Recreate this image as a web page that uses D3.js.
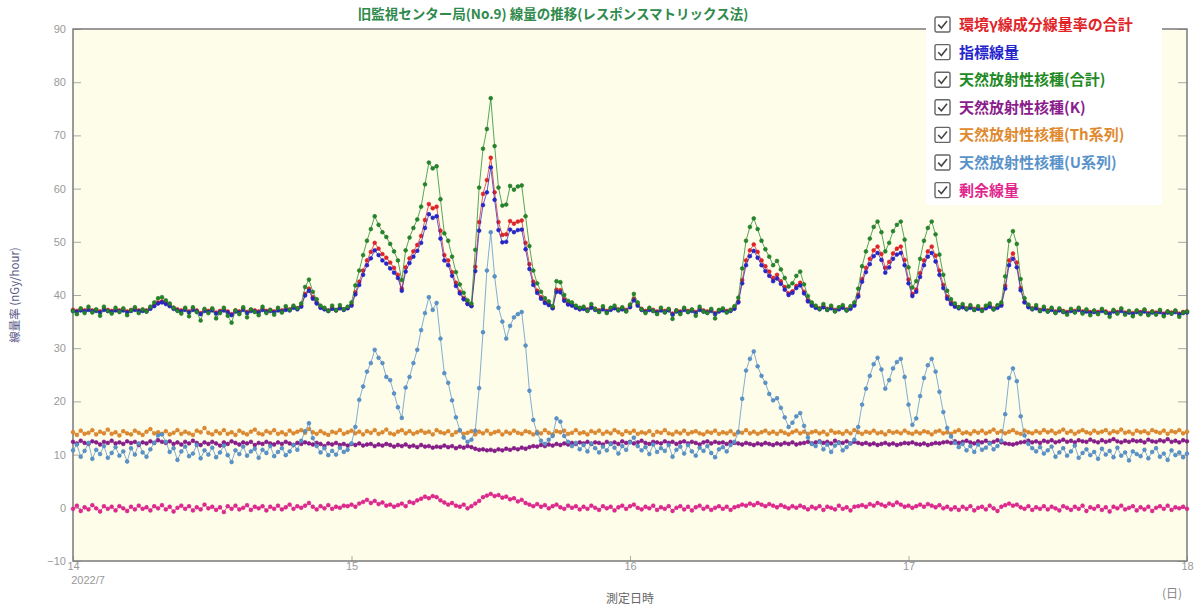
<!DOCTYPE html>
<html>
<head>
<meta charset="utf-8">
<script src="https://cdn.jsdelivr.net/npm/d3@7"></script>
<style>
  body { margin: 0; background: #fff; }
  svg { display: block; font-family: "Liberation Sans Narrow", "Liberation Sans", sans-serif; }
  .tick text { fill: #999; font-size: 11px; }
  .axis path.domain { display: none; }
  .axis line { stroke: #aaa; }
</style>
</head>
<body>
<div id="field"></div>
<script>
// 20-minute samples from 2022/7/14 00:00 to 2022/7/18 00:00 (289 points)
const startTime = new Date(2022, 6, 14, 0, 0);
const stepMinutes = 20;

const seriesNames = ["環境γ線成分線量率の合計", "指標線量", "天然放射性核種(合計)", "天然放射性核種(K)",
  "天然放射性核種(Th系列)", "天然放射性核種(U系列)", "剰余線量"];
const seriesColors = ["#e02428", "#2626cc", "#1f8a25", "#8a1c8c", "#e08a30", "#5a93c9", "#e0288e"];
const dotColors = ["#d81e24", "#2020b8", "#2a6e2e", "#7a1580", "#d07a22", "#4a82b8", "#d41e84"];

const yTicks = [-10, 0, 10, 20, 30, 40, 50, 60, 70, 80, 90];
const dayTicks = [14, 15, 16, 17, 18];

const totalRate = [
37.2,37.0,37.3,37.1,37.4,37.1,37.2,36.9,37.4,37.2,37.0,37.3,
37.1,37.3,36.9,37.2,37.4,37.1,37.2,37.1,37.6,38.1,38.6,38.8,
38.5,38.1,37.6,37.3,37.1,37.4,36.9,37.4,37.1,36.6,37.2,37.0,
37.3,36.7,37.0,37.3,36.9,36.4,37.1,36.9,37.4,36.8,37.2,37.1,
36.9,37.4,37.0,37.2,36.9,37.3,37.1,37.4,37.3,37.8,37.5,38.0,
40.2,41.2,39.6,38.6,37.7,37.4,37.1,37.6,37.2,37.6,37.3,37.6,
38.2,40.5,42.5,44.6,46.5,48.1,49.8,48.7,47.7,47.0,46.1,45.1,
43.8,41.2,45.2,46.9,48.2,49.4,51.1,54.1,57.1,56.3,56.6,52.1,
47.5,46.5,44.3,42.3,40.6,39.4,38.4,38.0,45.3,53.7,59.0,61.6,
65.8,59.3,53.7,51.3,51.4,53.9,53.4,53.8,54.0,49.8,45.8,42.5,
40.8,39.6,38.7,38.3,37.6,41.0,40.9,39.2,38.4,38.2,37.7,37.4,
37.6,37.3,37.8,37.4,37.1,37.5,37.0,37.4,37.7,37.3,37.5,37.2,
37.9,39.3,38.2,37.4,37.0,37.4,37.2,36.9,37.3,37.0,37.3,36.5,
37.1,36.9,37.4,37.0,37.2,36.8,37.4,37.1,36.9,37.2,36.6,37.1,
37.3,37.0,37.2,37.6,38.8,42.8,46.5,48.4,49.5,48.1,46.5,45.4,
44.4,43.2,43.8,42.6,41.5,40.3,40.7,41.7,42.3,40.6,39.0,38.2,
37.8,37.5,37.9,37.4,37.7,37.2,37.5,37.8,37.3,37.6,38.2,40.0,
43.0,45.1,46.8,48.4,49.1,47.7,45.1,46.2,47.8,48.7,49.1,46.6,
42.9,40.2,41.0,44.1,46.5,48.2,49.1,47.4,44.6,41.9,39.7,38.6,
38.0,37.7,37.9,37.5,37.8,37.4,37.6,37.3,37.7,38.0,37.5,37.8,
38.2,41.7,46.5,47.8,46.1,41.3,38.7,37.9,37.5,37.7,37.2,37.5,
37.1,37.4,36.9,37.3,37.0,36.8,37.2,37.0,37.4,36.9,37.1,36.8,
37.0,36.8,37.2,36.9,36.6,37.1,36.8,37.2,36.7,36.9,36.6,37.0,
36.8,37.1,36.6,36.9,36.7,37.0,36.5,36.9,36.7,37.0,36.5,36.8,
36.9];

const indexDose = [
37.0,36.8,37.1,36.9,37.2,36.9,37.0,36.7,37.2,37.0,36.8,37.1,
36.9,37.1,36.7,37.0,37.2,36.9,37.0,36.9,37.4,37.9,38.4,38.6,
38.3,37.9,37.4,37.1,36.9,37.2,36.7,37.2,36.9,36.4,37.0,36.8,
37.1,36.5,36.8,37.1,36.7,36.2,36.9,36.7,37.2,36.6,37.0,36.9,
36.7,37.2,36.8,37.0,36.7,37.1,36.9,37.2,37.1,37.6,37.3,37.8,
39.9,40.8,39.3,38.4,37.6,37.3,37.0,37.4,37.1,37.5,37.2,37.5,
38.0,40.1,41.9,43.8,45.6,46.9,48.4,47.5,46.5,45.9,45.0,44.2,
43.2,40.8,44.4,46.0,47.2,48.3,49.8,52.6,55.2,54.5,54.8,50.6,
46.5,45.6,43.6,41.7,40.3,39.2,38.3,37.9,44.5,52.1,56.9,59.3,
64.0,57.9,52.2,49.9,50.0,52.3,51.8,52.2,52.3,48.6,44.9,41.9,
40.4,39.3,38.5,38.1,37.5,40.6,40.5,38.9,38.2,38.0,37.6,37.3,
37.4,37.1,37.6,37.2,36.9,37.3,36.8,37.2,37.5,37.1,37.3,37.0,
37.7,39.0,38.0,37.2,36.8,37.2,37.0,36.7,37.1,36.8,37.1,36.3,
36.9,36.7,37.2,36.8,37.0,36.6,37.2,36.9,36.7,37.0,36.4,36.9,
37.1,36.8,37.0,37.4,38.6,42.2,45.6,47.3,48.3,47.0,45.6,44.5,
43.6,42.6,43.1,42.1,41.0,40.0,40.4,41.3,41.8,40.3,38.8,38.0,
37.6,37.3,37.7,37.2,37.5,37.0,37.3,37.6,37.1,37.4,38.0,39.7,
42.5,44.3,45.8,47.3,47.9,46.6,44.2,45.2,46.8,47.6,47.9,45.6,
42.2,39.8,40.6,43.4,45.6,47.2,47.9,46.3,43.8,41.3,39.3,38.3,
37.8,37.5,37.7,37.3,37.6,37.2,37.4,37.1,37.5,37.8,37.3,37.6,
38.0,41.2,45.6,46.8,45.2,40.9,38.6,37.7,37.3,37.5,37.0,37.3,
36.9,37.2,36.7,37.1,36.8,36.6,37.0,36.8,37.2,36.7,36.9,36.6,
36.8,36.6,37.0,36.7,36.4,36.9,36.6,37.0,36.5,36.7,36.4,36.8,
36.6,36.9,36.4,36.7,36.5,36.8,36.3,36.7,36.5,36.8,36.3,36.6,
36.7];

const naturalTotal = [
37.0,36.4,37.5,36.6,37.8,36.7,37.3,36.1,37.8,37.0,36.5,37.6,
36.8,37.5,36.2,37.1,37.7,36.6,37.3,36.9,37.8,38.6,39.4,39.6,
39.0,38.4,37.6,37.0,36.5,37.6,36.0,37.7,36.8,35.2,37.4,36.6,
37.5,35.6,36.6,37.6,36.1,34.8,37.1,36.4,37.7,35.8,37.3,36.8,
36.2,37.8,36.6,37.2,36.3,37.6,36.7,37.9,37.2,38.0,37.5,38.4,
41.5,42.9,40.6,39.2,38.0,37.6,37.0,38.0,37.1,38.1,37.3,37.8,
38.6,41.8,44.6,47.5,50.2,52.4,54.8,53.2,51.8,50.9,49.6,48.2,
46.5,42.8,48.4,50.8,52.6,54.2,56.6,60.8,64.9,63.8,64.2,58.0,
51.6,50.2,47.2,44.3,42.0,40.4,39.0,38.4,48.5,60.2,67.5,71.2,
77.0,68.0,60.2,56.8,57.0,60.5,59.8,60.4,60.6,54.8,49.2,44.6,
42.2,40.6,39.4,38.8,37.9,42.6,42.4,40.0,38.9,38.6,38.0,37.6,
37.8,37.0,38.3,37.4,36.8,37.9,36.6,37.6,38.0,37.2,37.7,36.9,
38.2,40.2,38.6,37.3,36.6,37.6,37.0,36.4,37.6,36.7,37.4,35.5,
37.1,36.4,37.6,36.8,37.3,36.1,37.8,36.9,36.6,37.4,35.6,37.2,
37.5,36.7,37.2,37.9,39.5,45.0,50.2,52.8,54.4,52.4,50.2,48.6,
47.2,45.6,46.4,44.8,43.2,41.6,42.2,43.6,44.4,42.0,39.8,38.6,
38.0,37.4,38.3,37.2,38.0,36.9,37.7,38.1,37.1,37.9,38.6,41.2,
45.4,48.2,50.6,52.8,53.8,51.8,48.2,49.8,52.0,53.2,53.8,50.4,
45.2,41.4,42.6,46.8,50.2,52.6,53.8,51.4,47.6,43.8,40.8,39.2,
38.4,37.7,38.3,37.4,38.1,37.2,37.9,37.0,38.0,38.4,37.3,38.1,
38.6,43.5,50.2,52.0,49.6,43.0,39.4,38.2,37.4,38.1,37.0,37.8,
36.9,37.6,36.6,37.5,36.9,36.3,37.4,36.7,37.6,36.5,37.3,36.2,
37.1,36.4,37.4,36.7,35.9,37.2,36.5,37.5,36.3,37.0,36.0,37.1,
36.4,37.3,36.2,36.9,36.3,37.2,36.0,36.9,36.5,37.1,35.9,36.7,
36.9];

const naturalK = [
12.4,12.1,12.6,12.2,12.0,12.5,12.3,11.9,12.4,12.2,12.6,12.1,
12.3,12.0,12.5,12.2,12.4,11.8,12.3,12.1,12.5,12.2,12.7,12.4,
12.2,12.5,12.0,12.3,11.9,12.4,12.1,12.6,12.2,11.8,12.3,12.0,
12.4,12.1,11.7,12.3,12.0,12.5,12.2,11.9,12.3,12.1,12.4,11.8,
12.2,12.0,12.4,12.1,11.9,12.3,12.0,12.4,12.1,11.8,12.2,12.0,
12.3,12.1,11.9,12.2,12.0,11.6,12.1,11.9,12.2,11.8,12.0,11.7,
12.0,11.8,12.1,11.7,11.9,12.0,11.6,11.9,11.7,12.0,11.8,11.5,
11.8,11.6,11.9,11.5,11.7,11.4,11.8,11.5,11.6,11.3,11.5,11.4,
11.7,11.4,11.6,11.2,11.5,11.3,11.6,11.4,11.1,10.9,11.0,10.8,
10.9,10.7,11.0,10.8,11.1,10.9,11.2,11.0,11.3,11.1,11.4,11.6,
11.5,11.8,11.6,11.9,11.7,12.0,11.8,12.1,11.9,12.2,12.0,12.3,
12.1,12.4,12.0,12.3,12.2,11.9,12.4,12.1,12.3,12.0,12.5,12.2,
12.4,12.1,12.3,12.6,12.2,12.0,12.4,12.3,12.1,12.5,12.2,12.4,
12.0,12.3,12.5,12.1,12.4,12.2,11.9,12.3,12.5,12.1,12.4,12.2,
12.3,12.0,12.4,12.2,12.1,11.9,12.2,12.0,11.8,12.1,11.9,12.2,
12.0,11.8,12.1,11.9,12.2,12.0,12.3,11.9,12.1,12.2,12.4,12.1,
12.3,12.5,12.2,12.4,12.1,12.6,12.3,12.2,12.5,12.1,12.4,12.2,
12.0,12.2,11.9,12.1,11.8,12.0,12.2,11.9,12.1,11.8,12.0,12.2,
12.1,12.3,12.0,11.9,12.1,11.8,12.0,12.2,12.1,12.3,12.4,12.2,
12.5,12.2,12.4,12.6,12.3,12.1,12.5,12.3,12.6,12.2,12.4,12.7,
12.3,12.1,12.0,11.9,12.1,12.3,12.4,12.6,12.3,12.5,12.2,12.6,
12.4,12.7,12.3,12.5,12.8,12.4,12.6,12.3,12.7,12.5,12.4,12.8,
12.5,12.3,12.7,12.4,12.6,12.9,12.5,12.3,12.6,12.4,12.7,12.5,
12.6,12.3,12.8,12.5,12.4,12.7,12.5,12.9,12.4,12.6,12.3,12.7,
12.5];

const naturalTh = [
14.2,13.7,14.5,13.9,14.1,14.6,13.8,14.3,14.0,14.7,13.9,14.2,
13.6,14.4,14.0,13.8,14.5,14.1,13.7,14.3,14.8,14.0,14.2,13.9,
14.4,13.8,14.1,14.6,13.9,14.3,14.0,13.7,14.5,14.2,15.0,14.1,
13.8,14.4,14.0,14.6,13.9,14.2,13.7,14.5,14.1,13.8,14.3,14.7,
14.0,13.8,14.4,14.1,14.6,13.9,14.2,13.8,14.5,14.0,14.3,14.6,
14.1,14.8,14.2,13.9,14.4,14.0,13.7,14.3,14.1,14.6,13.9,14.2,
14.5,14.0,14.3,13.8,14.4,14.1,14.6,13.9,14.2,14.7,14.0,13.8,
14.3,14.6,14.0,14.4,13.9,14.2,14.5,14.1,14.3,13.8,14.6,14.2,
14.0,14.4,13.7,14.2,14.5,13.9,14.1,14.4,13.8,14.3,14.0,14.5,
13.9,14.2,14.4,13.8,14.3,14.0,14.5,14.1,13.9,14.4,14.2,13.8,
14.3,14.0,14.6,14.1,13.8,14.4,14.2,14.5,13.9,14.1,14.6,14.0,
14.2,13.8,14.4,14.1,14.5,13.9,14.3,14.0,14.6,14.2,13.8,14.4,
14.1,14.5,13.9,14.2,14.0,14.4,13.7,14.3,14.1,14.6,14.0,13.8,
14.3,14.0,14.5,13.9,14.2,14.4,14.0,13.8,14.3,14.1,14.5,13.9,
14.2,14.0,14.4,13.8,14.3,14.1,14.6,14.0,14.3,13.9,14.2,14.5,
14.0,14.3,13.9,14.4,14.1,13.8,14.2,14.5,14.0,14.3,13.9,14.2,
14.4,14.0,14.3,13.8,14.5,14.1,14.2,13.9,14.4,14.0,14.6,14.2,
13.9,14.3,14.1,14.5,14.0,14.2,13.8,14.4,14.1,14.3,14.0,14.5,
14.1,13.9,14.3,14.0,14.4,14.2,13.8,14.3,14.5,14.0,14.2,13.9,
14.3,14.6,14.0,14.2,13.9,14.4,14.1,14.5,14.0,14.3,14.7,14.1,
14.4,14.0,14.3,14.6,14.1,13.9,14.5,14.2,14.0,14.4,14.1,14.6,
14.2,14.5,14.0,14.3,14.7,14.1,14.4,13.9,14.3,14.6,14.2,14.0,
14.5,14.1,14.3,14.6,14.0,14.4,14.2,14.7,14.1,14.3,13.9,14.5,
14.2,14.4,14.0,14.6,14.3,14.1,14.5,13.9,14.4,14.2,14.6,14.0,
14.3];

const naturalU = [
10.8,11.9,9.6,10.7,12.2,9.2,10.9,10.1,11.6,9.4,10.3,11.4,
9.8,10.6,8.7,11.2,10.0,12.1,10.4,9.6,11.0,12.2,13.6,13.8,
12.4,10.5,11.2,9.0,10.6,11.5,9.7,10.2,11.8,9.3,10.8,10.0,
11.3,9.5,10.4,11.7,9.9,8.6,10.8,10.1,11.5,9.8,10.6,11.1,
9.4,10.9,10.3,11.6,9.7,10.5,11.2,9.9,10.6,11.8,10.9,12.6,
14.4,15.9,13.1,11.6,10.4,11.2,9.9,10.7,10.0,11.3,10.5,10.9,
12.1,15.2,20.3,22.8,25.6,27.2,29.7,28.2,27.2,24.6,24.0,21.5,
18.9,16.9,22.6,24.6,27.2,29.7,33.4,36.6,39.6,37.2,38.5,31.8,
25.3,23.5,20.2,17.0,14.6,13.2,12.4,12.8,14.5,22.5,33.0,44.6,
51.8,43.5,37.6,35.0,31.8,34.2,35.8,36.4,36.8,30.5,22.0,16.5,
14.0,12.6,12.0,12.8,13.5,16.8,16.2,13.5,12.4,11.6,12.2,11.0,
11.8,10.6,12.1,11.2,10.4,11.5,10.8,12.0,11.3,10.2,11.6,10.9,
12.3,13.2,11.6,10.8,11.4,10.1,11.9,10.5,11.2,10.7,11.8,9.6,
10.9,11.5,10.2,11.8,10.6,9.8,11.3,10.7,11.6,10.3,9.5,11.0,
11.4,10.6,11.8,12.4,14.2,20.5,25.8,28.0,29.4,26.6,24.8,23.5,
21.4,20.2,20.6,18.8,17.0,15.2,16.0,17.2,17.8,15.4,13.2,12.0,
11.6,12.4,11.0,11.9,10.5,11.7,12.2,10.8,11.4,12.1,12.8,15.2,
19.4,22.4,24.8,27.0,28.2,26.0,22.4,24.0,26.2,27.4,28.0,24.6,
19.4,15.6,16.8,21.0,24.4,26.8,28.0,25.6,21.8,18.0,15.0,13.4,
12.2,11.4,12.0,10.8,11.6,10.5,11.9,10.9,11.3,12.1,11.0,11.6,
12.6,17.6,24.4,26.2,23.8,17.2,13.6,12.0,11.2,10.6,11.4,10.2,
10.8,11.5,9.6,10.4,11.2,9.8,10.6,11.7,9.4,10.3,11.0,9.9,
10.5,9.2,11.1,10.0,10.7,9.5,11.3,9.8,10.4,8.9,10.6,10.1,
9.7,10.9,9.3,10.5,11.2,9.6,10.2,9.0,10.8,9.9,10.4,9.5,
10.2];

const residual = [
-0.2,0.4,-0.6,0.1,-0.3,0.5,-0.1,-0.7,0.3,-0.2,0.2,-0.5,
0.3,-0.1,-0.6,0.2,-0.3,0.4,-0.2,0.1,-0.5,0.3,-0.1,0.5,
-0.3,0.2,-0.7,0.0,0.4,-0.2,0.3,-0.5,0.1,-0.3,0.6,-0.1,
0.2,-0.4,0.1,-0.8,0.3,-0.2,0.4,-0.3,0.0,0.5,-0.4,0.2,
-0.1,0.3,-0.5,0.2,-0.2,0.4,-0.3,0.1,0.6,-0.2,0.3,0.0,
0.4,0.9,0.2,-0.3,0.3,-0.1,0.5,-0.2,0.2,0.0,0.4,0.3,
0.6,0.2,0.8,1.1,1.5,0.9,1.3,0.7,1.0,0.4,0.6,0.2,
0.5,0.8,0.3,1.1,0.9,1.4,1.7,2.1,1.8,2.2,2.0,1.4,
1.0,0.6,0.9,0.4,0.2,0.6,-0.1,0.3,0.8,1.3,2.0,2.3,
2.6,2.2,2.4,1.9,2.1,1.6,1.8,1.2,1.5,0.9,0.6,0.3,
0.7,0.2,0.5,-0.1,0.3,0.6,0.1,-0.2,0.4,0.0,0.3,-0.3,
0.2,-0.2,0.4,0.0,-0.4,0.3,-0.1,0.2,-0.5,0.1,0.4,-0.2,
0.3,0.6,0.0,-0.3,0.2,-0.1,0.4,-0.4,0.1,-0.2,0.3,-0.6,
0.0,0.3,-0.3,0.2,-0.5,0.1,0.4,-0.2,0.2,-0.4,0.0,0.3,
-0.2,0.2,-0.4,0.1,0.3,0.6,0.4,0.8,0.5,0.9,0.6,0.3,
0.7,0.4,0.1,0.5,0.2,-0.1,0.3,0.0,0.4,0.1,-0.3,0.2,
-0.1,0.3,-0.4,0.2,0.0,-0.3,0.4,-0.2,0.1,-0.5,0.2,0.3,
0.5,0.2,0.7,0.4,0.9,0.6,0.3,0.8,0.5,1.0,0.6,0.2,
0.4,0.0,0.3,0.6,0.2,0.7,0.4,0.1,0.5,-0.1,0.2,-0.3,
0.1,-0.4,0.2,-0.2,0.3,-0.5,0.0,0.2,-0.3,0.4,-0.1,-0.6,
0.2,0.5,0.8,0.4,0.6,0.1,-0.2,0.3,-0.4,0.1,-0.2,0.3,
-0.3,0.2,-0.1,-0.5,0.3,0.0,-0.4,0.2,-0.2,0.4,-0.6,0.1,
-0.2,0.3,-0.4,0.1,-0.7,0.2,-0.1,0.4,-0.3,0.0,0.3,-0.5,
0.1,-0.3,0.2,-0.6,0.0,0.3,-0.2,0.4,-0.4,0.1,-0.1,0.2,
-0.2];

const allSeries = [totalRate, indexDose, naturalTotal, naturalK, naturalTh, naturalU, residual];

// sizes
const width = 1198;
const height = 607;
const plotLeft = 73;
const plotRight = 1187;
const plotTop = 29;
const plotBottom = 561;

const times = totalRate.map(function(d, i) {
    return new Date(startTime.getTime() + i * stepMinutes * 60000);
});

const xScale = d3.scaleTime()
    .domain([new Date(2022, 6, 14), new Date(2022, 6, 18)])
    .range([plotLeft, plotRight]);

const yScale = d3.scaleLinear()
    .domain([-10, 90])
    .range([plotBottom, plotTop]);

const chart = d3.select("#field")
    .append("svg")
    .attr("width", width)
    .attr("height", height);

// plot background
chart.append("rect")
    .attr("x", plotLeft)
    .attr("y", plotTop)
    .attr("width", plotRight - plotLeft)
    .attr("height", plotBottom - plotTop)
    .attr("fill", "#fdfde9");

// title
chart.append("text")
    .attr("x", 553)
    .attr("y", 19)
    .attr("text-anchor", "middle")
    .attr("fill", "#2f8a4c")
    .style("font-family", "'Noto Sans CJK JP', sans-serif")
    .style("font-size", "13.5px")
    .style("font-weight", "bold")
    .text("旧監視センター局(No.9) 線量の推移(レスポンスマトリックス法)");

// axes
const leftAxis = d3.axisLeft(yScale)
    .tickValues(yTicks)
    .tickSize(-8)
    .tickPadding(7);

chart.append("g")
    .attr("class", "axis")
    .attr("transform", "translate(" + plotLeft + ",0)")
    .call(leftAxis);

const rightAxis = d3.axisRight(yScale)
    .tickValues(yTicks)
    .tickSize(-9)
    .tickFormat("");

chart.append("g")
    .attr("class", "axis")
    .attr("transform", "translate(" + plotRight + ",0)")
    .call(rightAxis);

const bottomAxis = d3.axisBottom(xScale)
    .tickValues(dayTicks.map(function(d) { return new Date(2022, 6, d); }))
    .tickSize(-5)
    .tickPadding(1)
    .tickFormat(d3.timeFormat("%-d"));

chart.append("g")
    .attr("class", "axis")
    .attr("transform", "translate(0," + plotBottom + ")")
    .call(bottomAxis);

chart.selectAll(".axis .tick text").attr("fill", "#999");

// frame
chart.append("rect")
    .attr("x", plotLeft)
    .attr("y", plotTop)
    .attr("width", plotRight - plotLeft)
    .attr("height", plotBottom - plotTop)
    .attr("fill", "none")
    .attr("stroke", "#7a7a7a")
    .attr("stroke-width", 1.5);

// series
const line = d3.line()
    .x(function(d, i) { return xScale(times[i]); })
    .y(function(d) { return yScale(d); });

allSeries.forEach(function(values, k) {
    const g = chart.append("g").attr("class", "series");
    g.append("path")
        .attr("d", line(values))
        .attr("fill", "none")
        .attr("stroke", seriesColors[k])
        .attr("stroke-opacity", 0.75)
        .attr("stroke-width", 1);
    g.selectAll("circle")
        .data(values)
        .enter().append("circle")
        .attr("cx", function(d, i) { return xScale(times[i]); })
        .attr("cy", function(d) { return yScale(d); })
        .attr("r", 1.9)
        .attr("fill", seriesColors[k])
        .attr("stroke", dotColors[k])
        .attr("stroke-width", 0.6);
});

// axis titles
chart.append("text")
    .attr("transform", "translate(19,295) rotate(-90)")
    .attr("text-anchor", "middle")
    .attr("fill", "#5a5a88")
    .style("font-family", "'Noto Sans CJK JP', sans-serif")
    .style("font-size", "11.5px")
    .text("線量率 (nGy/hour)");

chart.append("text")
    .attr("x", 88)
    .attr("y", 584)
    .attr("text-anchor", "middle")
    .attr("fill", "#999")
    .style("font-size", "11px")
    .text("2022/7");

chart.append("text")
    .attr("x", 630)
    .attr("y", 603)
    .attr("text-anchor", "middle")
    .attr("fill", "#666")
    .style("font-family", "'Noto Sans CJK JP', sans-serif")
    .style("font-size", "12px")
    .text("測定日時");

chart.append("text")
    .attr("x", 1172)
    .attr("y", 598)
    .attr("text-anchor", "middle")
    .attr("fill", "#888")
    .style("font-family", "'Noto Sans CJK JP', sans-serif")
    .style("font-size", "12px")
    .text("(日)");

// legend
const legend = chart.append("g").attr("class", "legend");

legend.append("rect")
    .attr("x", 926)
    .attr("y", 4)
    .attr("width", 236)
    .attr("height", 201)
    .attr("fill", "#fff");

const legendRow = 27.6;

const items = legend.selectAll("g.item")
    .data(seriesNames)
    .enter().append("g")
    .attr("class", "item")
    .attr("transform", function(d, i) { return "translate(935," + (17 + i * legendRow) + ")"; });

items.append("rect")
    .attr("width", 15)
    .attr("height", 15)
    .attr("rx", 1.5)
    .attr("fill", "#fff")
    .attr("stroke", "#666")
    .attr("stroke-width", 1.4);

items.append("path")
    .attr("d", "M3.2,7.6 L6.4,11 L12,4")
    .attr("fill", "none")
    .attr("stroke", "#444")
    .attr("stroke-width", 1.6);

items.append("text")
    .attr("x", 24)
    .attr("y", 13)
    .attr("fill", function(d, i) { return seriesColors[i]; })
    .style("font-family", "'Noto Sans CJK JP', sans-serif")
    .style("font-size", "15px")
    .style("font-weight", "bold")
    .text(function(d) { return d; });
</script>
</body>
</html>
